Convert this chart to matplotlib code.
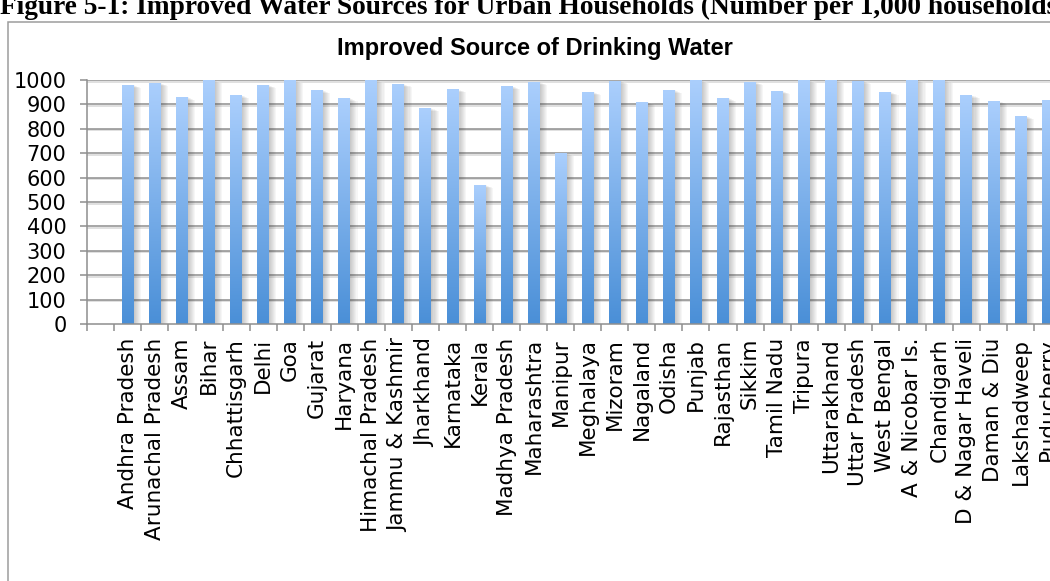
import numpy as np
import matplotlib
matplotlib.use("Agg")
import matplotlib.pyplot as plt
from matplotlib.patches import Rectangle
from matplotlib.colors import LinearSegmentedColormap
import matplotlib.patheffects as pe

# Urban households with an improved source of drinking water (per 1,000)
states = [
    "Andhra Pradesh", "Arunachal Pradesh", "Assam", "Bihar", "Chhattisgarh",
    "Delhi", "Goa", "Gujarat", "Haryana", "Himachal Pradesh",
    "Jammu & Kashmir", "Jharkhand", "Karnataka", "Kerala", "Madhya Pradesh",
    "Maharashtra", "Manipur", "Meghalaya", "Mizoram", "Nagaland",
    "Odisha", "Punjab", "Rajasthan", "Sikkim", "Tamil Nadu",
    "Tripura", "Uttarakhand", "Uttar Pradesh", "West Bengal", "A & Nicobar Is.",
    "Chandigarh", "D & Nagar Haveli", "Daman & Diu", "Lakshadweep", "Puducherry",
]
households = [
    980, 988, 930, 998, 938,
    980, 998, 959, 926, 999,
    984, 885, 962, 570, 975,
    992, 700, 951, 996, 910,
    959, 998, 926, 992, 955,
    998, 1000, 996, 951, 1000,
    1000, 938, 914, 852, 918,
]
y_ticks = [0, 100, 200, 300, 400, 500, 600, 700, 800, 900, 1000]

caption = ("Figure 5-1: Improved Water Sources for Urban Households "
           "(Number per 1,000 households)")
title = "Improved Source of Drinking Water"

W, H = 1050, 581
fig = plt.figure(figsize=(W / 100, H / 100), dpi=100)
fig.patch.set_facecolor("white")

# caption above the chart frame
fig.text(0.0, 1 - 14.5 / H, caption, ha="left", va="baseline",
         family="Liberation Serif", weight="bold", fontsize=19.75, color="black")

# chart frame
frame = Rectangle((7.5 / W, -0.05), 1.2, 1.05 - 21.5 / H,
                  transform=fig.transFigure, fill=False,
                  edgecolor="#9c9c9c", linewidth=1.1, zorder=0)
fig.add_artist(frame)

fig.text(535 / W, 1 - 48 / H, title, ha="center", va="center",
         family="Liberation Sans", weight="bold", fontsize=17, color="black")

# plot area: one empty slot before the first category
x0_px, slot_px = 87.3, 27.05
n = len(states)
left_lim, right_lim = -1.5, n + 0.5
ax_w_px = slot_px * (right_lim - left_lim)
ax = fig.add_axes([x0_px / W, (H - 324) / H, ax_w_px / W, 244 / H])
ax.set_facecolor("none")

grid_color = "#8e8e8e"
for yv in y_ticks[1:]:
    ax.axhline(yv, color=grid_color, linewidth=1.1, zorder=1,
               path_effects=[pe.SimpleLineShadow(offset=(0, -1.1),
                                                 shadow_color="#bdbdbd", alpha=0.6),
                             pe.Normal()])

x = np.arange(n)
bar_w = 0.44
shadow_fx = [pe.SimplePatchShadow(offset=(0.75 * k, -0.3 * k),
                                  shadow_rgbFace="#404040", alpha=0.045)
             for k in range(1, 8)] + [pe.Normal()]
bars = ax.bar(x, households, width=bar_w, color="none", edgecolor="none",
              zorder=2)

cmap = LinearSegmentedColormap.from_list("bar_grad", ["#4a8fd7", "#abcffd"])
grad = np.linspace(0, 1, 256).reshape(-1, 1)
for b in bars:
    b.set_path_effects(shadow_fx)
    bx, bw, bh = b.get_x(), b.get_width(), b.get_height()
    im = ax.imshow(grad, cmap=cmap, origin="lower", aspect="auto",
                   extent=(bx, bx + bw, 0, bh), interpolation="bilinear",
                   zorder=3)
    im.set_clip_path(b)

ax.set_xlim(left_lim, right_lim)
ax.set_ylim(0, 1000)

for side in ("top", "right"):
    ax.spines[side].set_visible(False)
for side in ("left", "bottom"):
    ax.spines[side].set_color(grid_color)
    ax.spines[side].set_linewidth(1.1)
    ax.spines[side].set_zorder(4)

ax.set_yticks(y_ticks)
ax.set_yticklabels([str(v) for v in y_ticks])
ax.tick_params(axis="y", direction="out", length=5, width=1.1,
               color=grid_color, pad=10, labelsize=15)

# tick marks on category boundaries, labels on category centres
ax.set_xticks(np.arange(left_lim, right_lim + 0.5, 1.0))
ax.set_xticklabels([])
ax.tick_params(axis="x", which="major", direction="out", length=5, width=1.1,
               color=grid_color)
ax.set_xticks(x, minor=True)
ax.set_xticklabels(states, minor=True, rotation=90)
ax.tick_params(axis="x", which="minor", length=0, pad=10, labelsize=15.5)

for lab in ax.get_xticklabels(minor=True) + ax.get_yticklabels():
    lab.set_family("DejaVu Sans")
    lab.set_color("black")

fig.savefig("out.png", dpi=100, facecolor="white")
